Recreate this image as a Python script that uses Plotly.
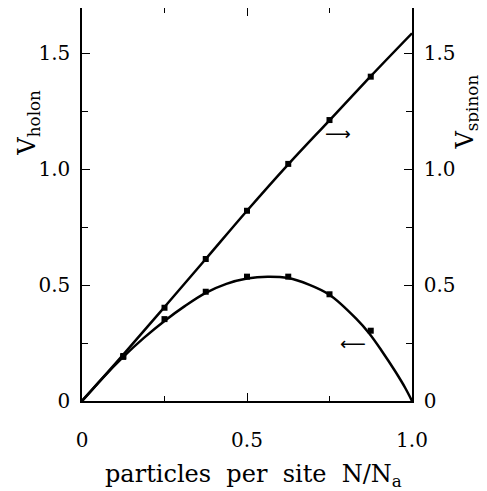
import plotly.graph_objects as go

# particle density n = N/Na
n_sq = [0.125, 0.25, 0.375, 0.5, 0.625, 0.75, 0.875]
spinon_sq = [0.194, 0.402, 0.612, 0.82, 1.022, 1.211, 1.398]
holon_sq = [0.19, 0.353, 0.471, 0.536, 0.536, 0.460, 0.303]

n_spin_line = [0.0, 0.125, 0.25, 0.375, 0.5, 0.625, 0.75, 0.875, 1.0]
spinon_line = [0.0, 0.20, 0.405, 0.612, 0.82, 1.02, 1.21, 1.40, 1.585]

n_hol_line = [0.0, 0.0625, 0.125, 0.1875, 0.25, 0.3125, 0.375, 0.4375, 0.5, 0.5625,
              0.625, 0.6875, 0.75, 0.83, 0.87, 0.91, 0.95, 0.98, 1.0]
holon_line = [0.0, 0.099, 0.19, 0.272, 0.345, 0.41, 0.466, 0.505, 0.528, 0.536,
              0.530, 0.502, 0.458, 0.356, 0.292, 0.2125, 0.126, 0.055, 0.0]

x_ticks = [0, 0.5, 1.0]
x_ticktext = ["0", "0.5", "1.0"]
x_minor = [0.25, 0.75]
y_ticks = [0, 0.5, 1.0, 1.5]
y_ticktext = ["0", "0.5", "1.0", "1.5"]
y_minor = [0.25, 0.75, 1.25]

FONT = "DejaVu Serif"
fig = go.Figure()
fig.add_trace(go.Scatter(x=n_hol_line, y=holon_line, mode="lines",
                         line=dict(color="black", width=2.5, shape="spline"),
                         showlegend=False, xaxis="x", yaxis="y"))
fig.add_trace(go.Scatter(x=n_sq, y=holon_sq, mode="markers",
                         marker=dict(symbol="square", size=6, color="black"),
                         showlegend=False, xaxis="x", yaxis="y"))
fig.add_trace(go.Scatter(x=n_spin_line, y=spinon_line, mode="lines",
                         line=dict(color="black", width=2.5, shape="spline"),
                         showlegend=False, xaxis="x2", yaxis="y2"))
fig.add_trace(go.Scatter(x=n_sq, y=spinon_sq, mode="markers",
                         marker=dict(symbol="square", size=6, color="black"),
                         showlegend=False, xaxis="x2", yaxis="y2"))

axis_common = dict(showgrid=False, zeroline=False, showline=True, linecolor="black",
                   linewidth=1.5, ticks="inside", tickcolor="black", tickwidth=1.2,
                   tickfont=dict(family=FONT, size=20, color="black"))


def minor(vals, ln):
    return dict(tickvals=vals, ticklen=ln, ticks="inside", tickcolor="black",
                tickwidth=1.2, showgrid=False)


YMAX = 1.694
fig.update_layout(
    width=479, height=483,
    margin=dict(l=74, r=75, t=0, b=90),
    paper_bgcolor="white", plot_bgcolor="white",
    xaxis=dict(range=[0, 1.0], tickvals=x_ticks, ticktext=x_ticktext, ticklen=8,
               minor=minor(x_minor, 5), ticklabelstandoff=20, anchor="y",
               **axis_common),
    xaxis2=dict(range=[0, 1.0], tickvals=x_ticks, ticklen=8, minor=minor(x_minor, 5),
                overlaying="x", side="top", anchor="y2", showticklabels=False,
                **axis_common),
    yaxis=dict(range=[0, YMAX], tickvals=y_ticks, ticktext=y_ticktext, ticklen=8,
               minor=minor(y_minor, 6), ticklabelstandoff=6, anchor="x",
               **axis_common),
    yaxis2=dict(range=[0, YMAX], tickvals=y_ticks, ticktext=y_ticktext, ticklen=8,
                minor=minor(y_minor, 6), overlaying="y", side="right", anchor="x2",
                ticklabelstandoff=6, **axis_common),
)

ann_font = dict(family=FONT, size=24, color="black")
fig.add_annotation(text="particles&nbsp; per&nbsp; site&nbsp; N/N<sub>a</sub>",
                   xref="paper", yref="paper",
                   x=0.52, y=-0.19, xanchor="center", yanchor="middle",
                   showarrow=False, font=ann_font)
fig.add_annotation(text="V<sub>holon</sub>", xref="paper", yref="paper",
                   x=-0.161, y=0.708, xanchor="center", yanchor="middle", textangle=-90,
                   showarrow=False, font=dict(family=FONT, size=24, color="black"))
fig.add_annotation(text="V<sub>spinon</sub>", xref="paper", yref="paper",
                   x=1.165, y=0.735, xanchor="center", yanchor="middle", textangle=-90,
                   showarrow=False, font=dict(family=FONT, size=24, color="black"))
fig.add_annotation(text="⟶", x=0.775, y=1.153, xref="x", yref="y", showarrow=False,
                   font=dict(family="DejaVu Sans", size=18, color="black"))
fig.add_annotation(text="⟵", x=0.82, y=0.247, xref="x", yref="y", showarrow=False,
                   font=dict(family="DejaVu Sans", size=18, color="black"))

fig.write_html("out.html")
